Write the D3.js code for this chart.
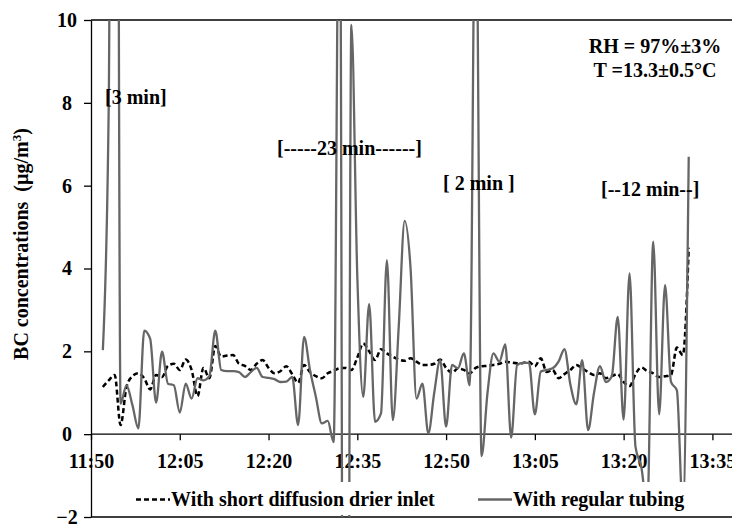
<!DOCTYPE html>
<html>
<head>
<meta charset="utf-8">
<script src="https://cdn.jsdelivr.net/npm/d3@7"></script>
<style>
  body { margin: 0; background: #fff; }
  svg { display: block; }
  text { font-family: "Liberation Serif", "Times New Roman", serif; font-weight: bold; fill: #000; }
</style>
</head>
<body>
<svg id="chart" width="732" height="525"></svg>
<script>
// sample times (1 minute data)
const times = [
  "11:52","11:53","11:54","11:55","11:56","11:57","11:58","11:59",
  "12:00","12:01","12:02","12:03","12:04","12:05","12:06","12:07","12:08","12:09",
  "12:10","12:11","12:12","12:13","12:14","12:15","12:16","12:17","12:18","12:19",
  "12:20","12:21","12:22","12:23","12:24","12:25","12:26","12:27","12:28","12:29",
  "12:30","12:31","12:32","12:33","12:34","12:35","12:36","12:37","12:38","12:39",
  "12:40","12:41","12:42","12:43","12:44","12:45","12:46","12:47","12:48","12:49",
  "12:50","12:51","12:52","12:53","12:54","12:55","12:56","12:57","12:58","12:59",
  "13:00","13:01","13:02","13:03","13:04","13:05","13:06","13:07","13:08","13:09",
  "13:10","13:11","13:12","13:13","13:14","13:15","13:16","13:17","13:18","13:19",
  "13:20","13:21","13:22","13:23","13:24","13:25","13:26","13:27","13:28","13:29",
  "13:30","13:31"
];

// With short diffusion drier inlet (dashed)
const drierInlet = [
  1.14, 1.30, 1.43, 0.22, 1.14, 1.40, 1.47, 1.35,
  1.08, 1.43, 1.38, 1.65, 1.70, 1.55, 1.80, 1.55, 0.92, 1.60,
  1.35, 2.13, 1.87, 1.90, 1.91, 1.70, 1.65, 1.55, 1.70, 1.79,
  1.60, 1.47, 1.52, 1.64, 1.45, 1.24, 1.67, 1.50, 1.40, 1.35,
  1.47, 1.53, 1.59, 1.60, 1.55, 1.85, 2.19, 2.00, 1.79, 2.05,
  1.95, 1.87, 1.80, 1.77, 1.83, 1.75, 1.67, 1.67, 1.70, 1.80,
  1.60, 1.48, 1.59, 1.55, 1.47, 1.60, 1.64, 1.65, 1.67, 1.70,
  1.75, 1.73, 1.71, 1.72, 1.75, 1.64, 1.83, 1.50, 1.55, 1.35,
  1.45, 1.55, 1.67, 1.59, 1.50, 1.43, 1.47, 1.35, 1.40, 1.45,
  1.26, 1.16, 1.45, 1.61, 1.52, 1.47, 1.38, 1.40, 1.43, 2.09,
  1.91, 4.50
];

// With regular tubing (solid grey)
const regularTubing = [
  2.03, 8.0, 45, 0.74, 1.18, 0.70, 0.14, 2.50,
  2.30, 0.76, 1.99, 1.22, 1.18, 0.52, 1.22, 0.86, 1.35, 1.30,
  1.40, 2.50, 1.55, 1.52, 1.52, 1.50, 1.38, 1.50, 1.60, 1.38,
  1.36, 1.33, 1.26, 1.27, 1.38, 0.22, 2.35, 1.55, 0.90, 0.26,
  0.32, -0.19, 15, -30, 9.88, 3.80, 0.90, 3.14, 0.30, 0.50,
  4.20, 0.34, 2.60, 5.15, 4.00, 0.86, 1.22, 0.02, 1.00, 1.79,
  0.18, 1.67, 1.59, 1.95, 1.18, 14, -0.53, 1.00, 1.95, 1.75,
  2.17, -0.08, 1.67, 1.72, 1.72, 0.48, 1.51, 1.55, 1.59, 1.75,
  2.05, 1.20, 0.72, 1.79, 0.10, 1.00, 1.64, 1.26, 1.40, 2.83,
  0.35, 3.88, -0.30, -0.80, -1.80, 4.65, 0.48, 3.60, 1.26, 1.06,
  -1.80, 6.70
];

const xTicks = ["11:50", "12:05", "12:20", "12:35", "12:50", "13:05", "13:20", "13:35"];
const yTicks = [-2, 0, 2, 4, 6, 8, 10];

const annotations = [
  {text: "[3 min]", x: 105, y: 104},
  {text: "[-----23 min------]", x: 277, y: 155},
  {text: "[ 2 min ]", x: 443, y: 190},
  {text: "[--12 min--]", x: 601, y: 196}
];
const conditions = ["RH = 97%\u00b13%", "T =13.3\u00b10.5\u00b0C"];

const svg = d3.select("#chart"),
  width = +svg.attr("width"),
  margin = {top: 20, left: 91, bottom: 517},
  fontSize = 20,
  greyColor = "#666";

const parse = d3.timeParse("%H:%M");

const x = d3.scaleTime()
  .domain([parse("11:50"), parse("13:35")])
  .range([margin.left, 712.4]);
const y = d3.scaleLinear()
  .domain([-2, 10])
  .range([margin.bottom, margin.top]);

svg.append("defs").append("clipPath")
  .attr("id", "plot-clip")
  .append("rect")
  .attr("x", margin.left)
  .attr("y", margin.top)
  .attr("width", width - margin.left)
  .attr("height", margin.bottom - margin.top);

// frame lines (top and bottom of plot area)
svg.append("line")
  .attr("x1", margin.left).attr("x2", width)
  .attr("y1", margin.top).attr("y2", margin.top)
  .attr("stroke", "#000").attr("stroke-width", 1.3);
svg.append("line")
  .attr("x1", margin.left).attr("x2", width)
  .attr("y1", margin.bottom).attr("y2", margin.bottom)
  .attr("stroke", "#000").attr("stroke-width", 1.3);

// y axis
const yAxis = svg.append("g")
  .attr("transform", "translate(" + margin.left + ",0)")
  .call(d3.axisLeft(y).tickValues(yTicks).tickSize(7).tickSizeOuter(0).tickFormat(d3.format("d")));
yAxis.select(".domain").attr("stroke-width", 1.3);
yAxis.selectAll(".tick line").attr("stroke-width", 1.3);
yAxis.selectAll(".tick text")
  .attr("x", -24)
  .attr("text-anchor", "middle")
  .style("font-size", fontSize + "px")
  .style("font-family", null);

// x axis at zero
const xAxis = svg.append("g")
  .attr("transform", "translate(0," + y(0) + ")")
  .call(d3.axisBottom(x).tickValues(xTicks.map(parse)).tickSize(6).tickSizeOuter(0).tickFormat(d3.timeFormat("%H:%M")));
xAxis.select(".domain").remove();
xAxis.append("line")
  .attr("x1", margin.left).attr("x2", width)
  .attr("stroke", "#000").attr("stroke-width", 1.3);
xAxis.selectAll(".tick line").attr("stroke-width", 1.3);
xAxis.selectAll(".tick text")
  .attr("y", 20)
  .style("font-size", fontSize + "px")
  .style("font-family", null);

// series
const dashedData = times.map((t, i) => ({t: parse(t), v: drierInlet[i]}));
const greyData = times.map((t, i) => ({t: parse(t), v: regularTubing[i]}));

const line = d3.line()
  .x(d => x(d.t))
  .y(d => y(d.v))
  .curve(d3.curveMonotoneX);

const plot = svg.append("g").attr("clip-path", "url(#plot-clip)");

plot.append("path")
  .datum(dashedData)
  .attr("d", line)
  .attr("fill", "none")
  .attr("stroke", "#000")
  .attr("stroke-width", 2.5)
  .attr("stroke-dasharray", "5,3");

plot.append("path")
  .datum(greyData)
  .attr("d", line)
  .attr("fill", "none")
  .attr("stroke", greyColor)
  .attr("stroke-width", 2.3);

// legend box over the plot
svg.append("rect")
  .attr("x", 125).attr("y", 482)
  .attr("width", 585).attr("height", 33)
  .attr("fill", "#fff");

const legend = svg.append("g");
legend.append("line")
  .attr("x1", 136).attr("x2", 170)
  .attr("y1", 499.5).attr("y2", 499.5)
  .attr("stroke", "#000").attr("stroke-width", 2.5)
  .attr("stroke-dasharray", "5,3");
legend.append("text")
  .attr("x", 171).attr("y", 506)
  .style("font-size", fontSize + "px")
  .text("With short diffusion drier inlet");
legend.append("line")
  .attr("x1", 478).attr("x2", 512)
  .attr("y1", 499.5).attr("y2", 499.5)
  .attr("stroke", greyColor).attr("stroke-width", 2.3);
legend.append("text")
  .attr("x", 513).attr("y", 506)
  .style("font-size", fontSize + "px")
  .text("With regular tubing");

// annotations
svg.selectAll(".note")
  .data(annotations)
  .enter().append("text")
  .attr("class", "note")
  .attr("x", d => d.x)
  .attr("y", d => d.y)
  .style("font-size", fontSize + "px")
  .style("white-space", "pre")
  .attr("xml:space", "preserve")
  .text(d => d.text);

svg.selectAll(".cond")
  .data(conditions)
  .enter().append("text")
  .attr("class", "cond")
  .attr("x", 655)
  .attr("y", (d, i) => 53 + i * 24)
  .attr("text-anchor", "middle")
  .style("font-size", fontSize + "px")
  .text(d => d);

// y axis title
const title = svg.append("text")
  .attr("transform", "translate(28," + 244 + ") rotate(-90)")
  .attr("text-anchor", "middle")
  .style("font-size", fontSize + "px")
  .style("white-space", "pre")
  .attr("xml:space", "preserve");
title.append("tspan").text("BC concentrations  (\u00b5g/m");
title.append("tspan").attr("dy", -7).style("font-size", "13px").text("3");
title.append("tspan").attr("dy", 7).text(")");
</script>
</body>
</html>
